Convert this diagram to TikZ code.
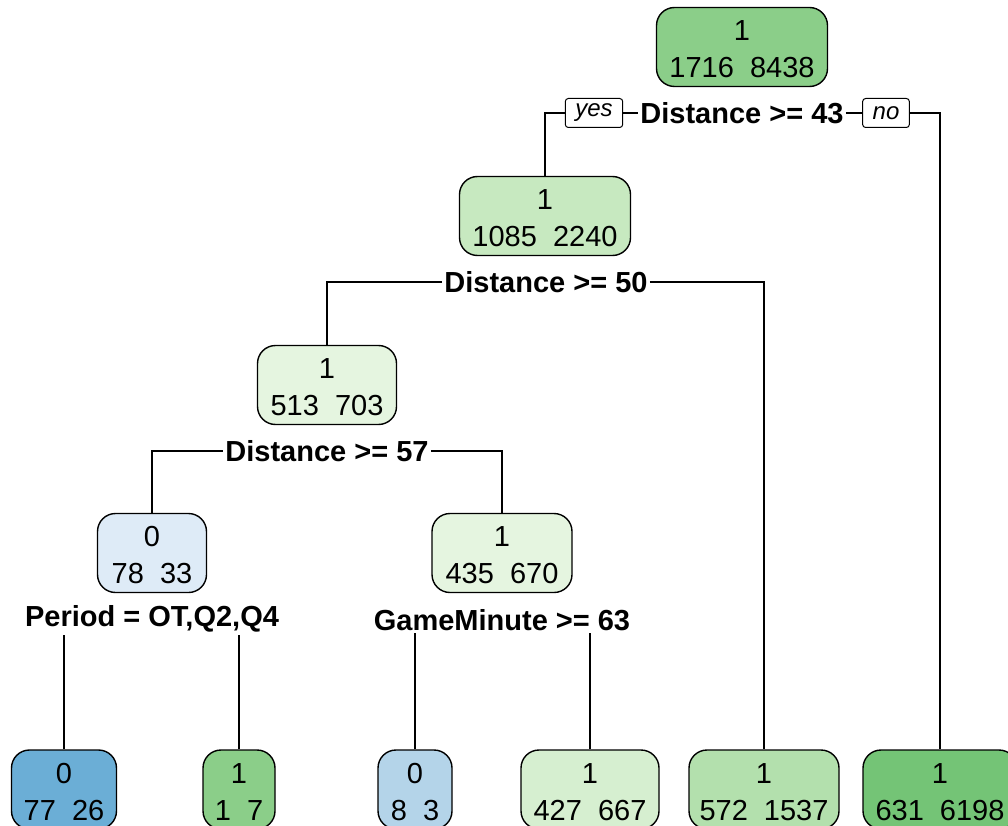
\documentclass[tikz,border=0pt]{standalone}
\usepackage{fontspec}
\setmainfont{Liberation Sans}
\definecolor{cRoot}{HTML}{8BCE89}
\definecolor{cN2}{HTML}{C7E9C0}
\definecolor{cN3}{HTML}{E5F5E0}
\definecolor{cN4}{HTML}{DEEBF7}
\definecolor{cL1}{HTML}{6BAED6}
\definecolor{cL2}{HTML}{8BCE89}
\definecolor{cL3}{HTML}{B4D4E9}
\definecolor{cL4}{HTML}{D6EFD0}
\definecolor{cL5}{HTML}{B3E0AD}
\definecolor{cL6}{HTML}{74C476}
\newcommand\topstrut{\rule{0pt}{25pt}}
\begin{document}
\begin{tikzpicture}[x=1pt,y=-1pt,
  box/.style={draw=black, line width=1.4pt, rounded corners=18pt, align=center,
    minimum height=79pt, inner sep=0pt, font=\fontsize{29}{37}\selectfont},
  lab/.style={font=\fontsize{29}{34}\selectfont\bfseries, inner sep=2pt},
  yn/.style={draw=black, rounded corners=3pt, line width=1pt,
    font=\fontsize{24}{28}\selectfont\itshape, minimum height=29pt,
    inner xsep=10pt, inner ysep=0pt},
  conn/.style={line width=1.3pt}]
\useasboundingbox (0,0) rectangle (1008,826);
\clip (0,0) rectangle (1008,826);
% nodes
\node[box, fill=cRoot, minimum width=171pt] (root) at (742,47) {\topstrut 1\\1716~~8438};
\node[box, fill=cN2, minimum width=171pt] (n2) at (545,216) {\topstrut 1\\1085~~2240};
\node[box, fill=cN3, minimum width=139pt] (n3) at (327,385) {\topstrut 1\\513~~703};
\node[box, fill=cN4, minimum width=109pt] (n4) at (152,553) {\topstrut 0\\78~~33};
\node[box, fill=cN3, minimum width=140pt] (n5) at (502,553) {\topstrut 1\\435~~670};
\node[box, fill=cL1, minimum width=105pt] (l1) at (64,789.5) {\topstrut 0\\77~~26};
\node[box, fill=cL2, minimum width=72pt] (l2) at (239,789.5) {\topstrut 1\\1~~7};
\node[box, fill=cL3, minimum width=74pt] (l3) at (415,789.5) {\topstrut 0\\8~~3};
\node[box, fill=cL4, minimum width=138pt] (l4) at (590,789.5) {\topstrut 1\\427~~667};
\node[box, fill=cL5, minimum width=150pt] (l5) at (764,789.5) {\topstrut 1\\572~~1537};
\node[box, fill=cL6, minimum width=154pt] (l6) at (940,789.5) {\topstrut 1\\631~~6198};
% split labels
\node[lab] (s1) at (742,113) {Distance >= 43};
\node[yn] (yes) at (594,113) {yes};
\node[yn] (no) at (886,113) {no};
\node[lab] (s2) at (546,282) {Distance >= 50};
\node[lab] (s3) at (327,451) {Distance >= 57};
\node[lab] (s4) at (152,619) {Period = OT,Q2,Q4};
\node[lab] (s5) at (502,620) {GameMinute >= 63};
% connectors
\draw[conn] (n2.north) |- (yes.west);
\draw[conn] (yes.east) -- (s1.west);
\draw[conn] (s1.east) -- (no.west);
\draw[conn] (no.east) -| (l6.north);
\draw[conn] (n3.north) |- (s2.west);
\draw[conn] (s2.east) -| (l5.north);
\draw[conn] (n4.north) |- (s3.west);
\draw[conn] (s3.east) -| (n5.north);
\draw[conn] (l1.north) -- (l1.north |- s4.south);
\draw[conn] (l2.north) -- (l2.north |- s4.south);
\draw[conn] (l3.north) -- (l3.north |- s5.south);
\draw[conn] (l4.north) -- (l4.north |- s5.south);
\end{tikzpicture}
\end{document}
